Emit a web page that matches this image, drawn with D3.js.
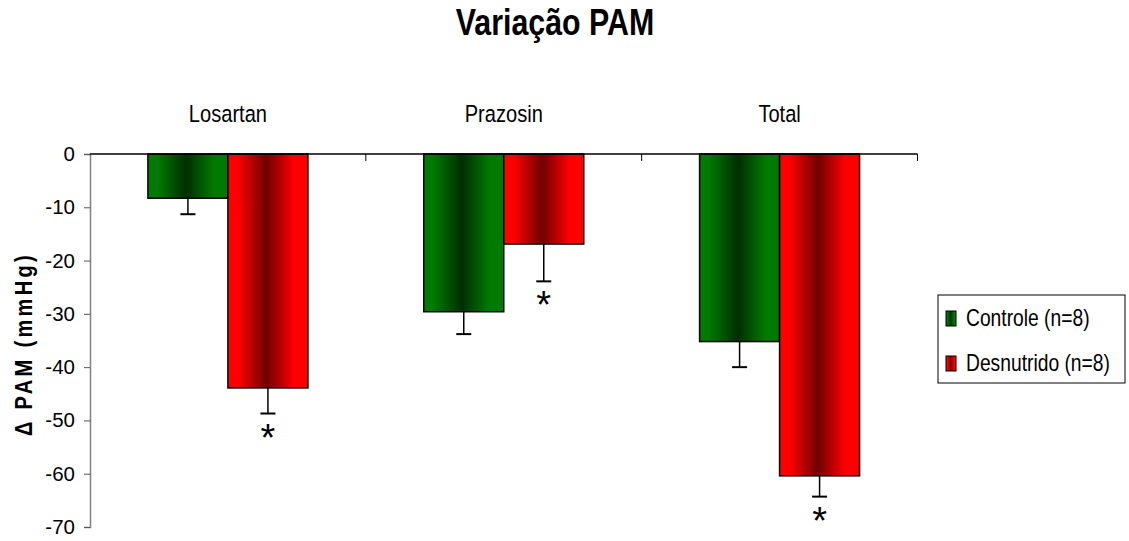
<!DOCTYPE html>
<html>
<head>
<meta charset="utf-8">
<script src="https://cdn.jsdelivr.net/npm/d3@7"></script>
<style>
  body { margin: 0; background: #fff; }
  text { font-family: "Liberation Sans", Arial, sans-serif; }
</style>
</head>
<body>
<div class="displayArea"></div>
<script>
const width = 1129, height = 541;
const narrow = 0.82; // the original uses a condensed face, squeeze Liberation Sans

var categories = ["Losartan", "Prazosin", "Total"];
var series = ["Controle (n=8)", "Desnutrido (n=8)"];
var controle = [-8.3, -29.6, -35.2],
    desnutrido = [-43.9, -16.9, -60.4]; // means
var controleErr = [3.0, 4.2, 4.8],
    desnutridoErr = [4.8, 7.0, 3.9]; // SEM, drawn downward only
var significant = [false, true]; // asterisk only on Desnutrido bars
var yTicks = [0, -10, -20, -30, -40, -50, -60, -70];

var svg = d3.select(".displayArea")
    .append("svg")
    .attr("width", width)
    .attr("height", height);

// condensed text helper
function narrowText(parent, x, y, rot) {
    return parent.append("g")
        .attr("transform", "translate(" + x + "," + y + ")" + (rot ? " rotate(" + rot + ")" : "") + " scale(" + narrow + ",1)")
        .append("text");
}

// gradients for the "tube" look of the bars
var defs = svg.append("defs");
function tubeGradient(id, bright, dark) {
    var g = defs.append("linearGradient").attr("id", id)
        .attr("x1", "0%").attr("x2", "100%").attr("y1", "0%").attr("y2", "0%");
    [[0, bright], [0.12, bright], [0.48, dark], [0.82, bright], [1, bright]].forEach(function (s) {
        g.append("stop").attr("offset", s[0]).attr("stop-color", s[1]);
    });
}
tubeGradient("gGreen", "#007a00", "#002e00");
tubeGradient("gRed", "#ff0000", "#700000");
var fills = ["url(#gGreen)", "url(#gRed)"];

var x0 = d3.scaleBand()
    .domain(categories)
    .range([90, 917.5]);

var x1 = d3.scaleBand()
    .domain(d3.range(series.length))
    .range([0, x0.bandwidth()])
    .paddingOuter(0.724);

var yScale = d3.scaleLinear()
    .domain([0, -70])
    .range([154, 527]);

// title
narrowText(svg, 555, 35)
    .attr("text-anchor", "middle")
    .style("font-size", "37px").style("font-weight", "bold")
    .text("Variação PAM");

// y axis
var yAxis = d3.axisLeft(yScale)
    .tickValues(yTicks)
    .tickFormat(function (d) { return String(d); })
    .tickSize(6)
    .tickPadding(9);

var yg = svg.append("g")
    .attr("transform", "translate(90,0)")
    .call(yAxis);
yg.select(".domain").attr("stroke", "#808080").attr("stroke-width", 1.5);
yg.selectAll(".tick line").attr("stroke", "#555");
yg.selectAll(".tick text")
    .style("font-size", "20.5px")
    .attr("fill", "#000");

// y title
narrowText(svg, 32, 344, -90)
    .attr("text-anchor", "middle")
    .style("font-size", "24.5px").style("font-weight", "bold")
    .style("letter-spacing", "4px")
    .text("Δ PAM (mmHg)");

// bars
var data = [];
categories.forEach(function (c, i) {
    data.push({ cat: c, s: 0, v: controle[i], e: controleErr[i] });
    data.push({ cat: c, s: 1, v: desnutrido[i], e: desnutridoErr[i] });
});

var g = svg.selectAll("g.bar")
    .data(data)
    .enter()
    .append("g")
    .attr("class", "bar")
    .attr("transform", function (d) { return "translate(" + x0(d.cat) + ",0)"; });

g.append("rect")
    .attr("x", function (d) { return x1(d.s); })
    .attr("y", yScale(0))
    .attr("width", x1.bandwidth())
    .attr("height", function (d) { return yScale(d.v) - yScale(0); })
    .attr("fill", function (d) { return fills[d.s]; })
    .attr("stroke", "#000")
    .attr("stroke-width", 1.5);

// error bars (downward)
g.append("line")
    .attr("x1", function (d) { return x1(d.s) + x1.bandwidth() / 2; })
    .attr("x2", function (d) { return x1(d.s) + x1.bandwidth() / 2; })
    .attr("y1", function (d) { return yScale(d.v); })
    .attr("y2", function (d) { return yScale(d.v - d.e); })
    .attr("stroke", "#000").attr("stroke-width", 1.5);

g.append("line")
    .attr("x1", function (d) { return x1(d.s) + x1.bandwidth() / 2 - 7.5; })
    .attr("x2", function (d) { return x1(d.s) + x1.bandwidth() / 2 + 7.5; })
    .attr("y1", function (d) { return yScale(d.v - d.e); })
    .attr("y2", function (d) { return yScale(d.v - d.e); })
    .attr("stroke", "#000").attr("stroke-width", 2);

g.filter(function (d) { return significant[d.s]; })
    .append("text")
    .attr("x", function (d) { return x1(d.s) + x1.bandwidth() / 2; })
    .attr("y", function (d) { return yScale(d.v - d.e) + 37; })
    .attr("text-anchor", "middle")
    .style("font-size", "38px")
    .text("*");

// top axis (zero line) with category ticks pointing down
var xAxis = d3.axisBottom(x0).tickSize(0).tickFormat("");
var xg = svg.append("g")
    .attr("transform", "translate(0," + yScale(0) + ")")
    .call(xAxis);
xg.select(".domain").attr("stroke", "#000").attr("stroke-width", 1.5).attr("d", "M90,0H917.5");
xg.selectAll(".sep")
    .data(categories.slice(1).concat(["end"]))
    .enter()
    .append("line")
    .attr("x1", function (d, i) { return x0.range()[0] + x0.step() * (i + 1); })
    .attr("x2", function (d, i) { return x0.range()[0] + x0.step() * (i + 1); })
    .attr("y1", 0).attr("y2", 7)
    .attr("stroke", "#000");

// category labels above
categories.forEach(function (c) {
    narrowText(svg, x0(c) + x0.bandwidth() / 2, 122)
        .attr("text-anchor", "middle")
        .style("font-size", "24.5px")
        .text(c);
});

// legend
var legend = svg.append("g");
legend.append("rect")
    .attr("x", 938).attr("y", 295)
    .attr("width", 187).attr("height", 88)
    .attr("fill", "#fff").attr("stroke", "#000");

var li = legend.selectAll("g.item")
    .data(series)
    .enter()
    .append("g")
    .attr("transform", function (d, i) { return "translate(946," + (311 + i * 45) + ")"; });

li.append("rect")
    .attr("width", 10).attr("height", 15)
    .attr("fill", function (d, i) { return fills[i]; })
    .attr("stroke", "#000").attr("stroke-width", 1);

li.each(function (d) {
    narrowText(d3.select(this), 20, 15)
        .style("font-size", "23.5px")
        .text(d);
});
</script>
</body>
</html>
